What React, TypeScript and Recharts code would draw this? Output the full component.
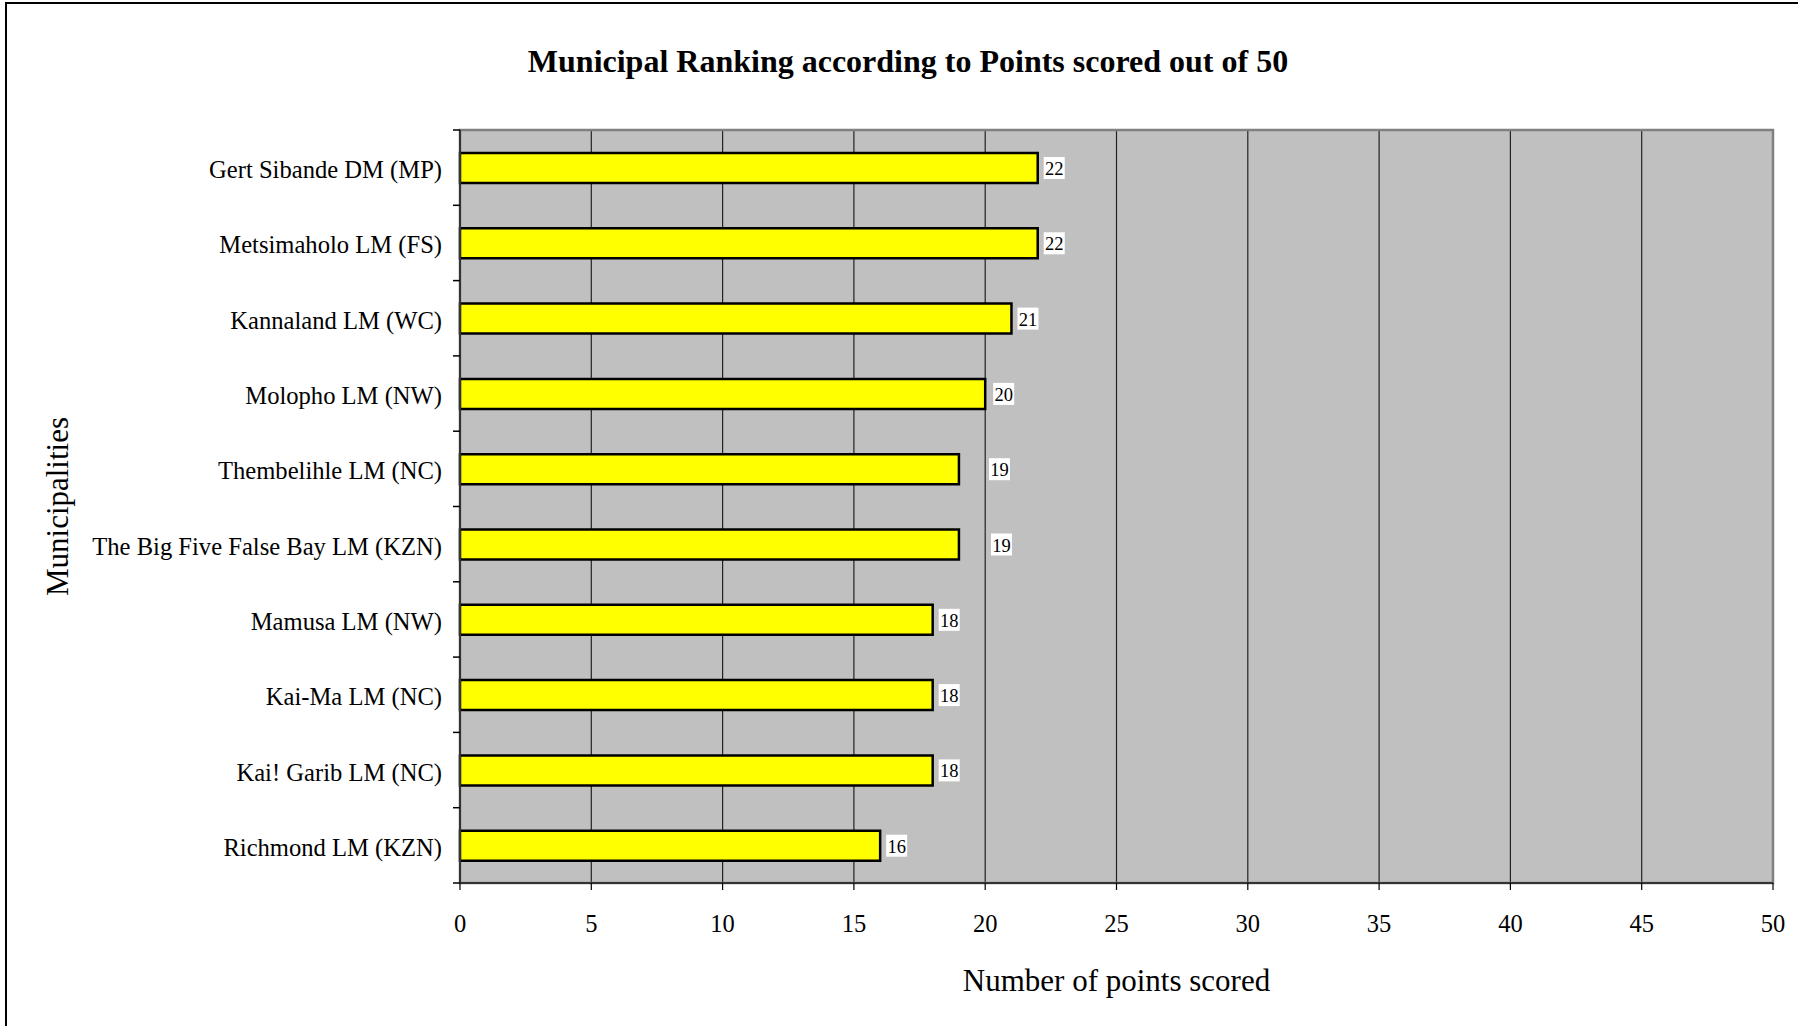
import { Bar, BarChart, CartesianGrid, LabelList, Label, ReferenceArea, XAxis, YAxis } from 'recharts'

const municipalities = [
  'Gert Sibande DM (MP)',
  'Metsimaholo LM (FS)',
  'Kannaland LM (WC)',
  'Molopho LM (NW)',
  'Thembelihle LM (NC)',
  'The Big Five False Bay LM (KZN)',
  'Mamusa LM (NW)',
  'Kai-Ma LM (NC)',
  'Kai! Garib LM (NC)',
  'Richmond LM (KZN)',
]
const points = [22, 22, 21, 20, 19, 19, 18, 18, 18, 16]
const pointTicks = [0, 5, 10, 15, 20, 25, 30, 35, 40, 45, 50]

// the two "19" tags sit a bit further out than the rest
const tagNudge = [0, 0, 0, 2, 24, 26, 0, 0, 0, 0]

const rows = municipalities.map((name, i) => ({ name, points: points[i] }))

const W = 1798
const H = 1026
const TOP = 130
const RIGHT = 25
const Y_AXIS_W = 460
const X_AXIS_H = 143
const BAND = (H - TOP - X_AXIS_H) / municipalities.length
const serif = '"Liberation Serif", "Times New Roman", serif'

function MunicipalityTick(props: any) {
  const { x, y, payload, index } = props
  const half = BAND / 2
  return (
    <g>
      <text x={x - 18} y={y + 2} textAnchor="end" dominantBaseline="central" fontSize={24.6} fontFamily={serif} fill="#000">
        {payload.value}
      </text>
      <line x1={x - 7} x2={x} y1={y + half} y2={y + half} stroke="#000" strokeWidth={1.5} />
      {index === 0 && <line x1={x - 7} x2={x} y1={y - half} y2={y - half} stroke="#000" strokeWidth={1.5} />}
    </g>
  )
}

function ValueTag(props: any) {
  const { x, y, width, height, value, index } = props
  const left = Number(x) + Number(width) + 6 + (tagNudge[index] ?? 0)
  const cy = Number(y) + Number(height) / 2
  return (
    <g>
      <rect x={left} y={cy - 11} width={21} height={22} fill="#fff" />
      <text x={left + 10.5} y={cy + 1} textAnchor="middle" dominantBaseline="central" fontSize={18.5} fontFamily={serif} fill="#000">
        {value}
      </text>
    </g>
  )
}

export default function App() {
  return (
    <div style={{ position: 'absolute', left: 0, top: 0, width: W, height: H, overflow: 'hidden', background: '#fff' }}>
      <div
        style={{
          position: 'absolute',
          left: 5,
          top: 2,
          width: W + 50,
          height: H + 50,
          borderLeft: '2px solid #000',
          borderTop: '2px solid #000',
        }}
      />
      <div
        style={{
          position: 'absolute',
          left: 0,
          top: 44,
          width: 1816,
          textAlign: 'center',
          fontFamily: serif,
          fontWeight: 'bold',
          fontSize: 32,
          lineHeight: '34px',
          color: '#000',
        }}
      >
        Municipal Ranking according to Points scored out of 50
      </div>
      <div style={{ position: 'absolute', left: 0, top: 0 }}>
        <BarChart
          width={W}
          height={H}
          data={rows}
          layout="vertical"
          margin={{ top: TOP, right: RIGHT, bottom: 0, left: 0 }}
        >
          <CartesianGrid horizontal={false} fill="#C0C0C0" fillOpacity={1} stroke="#222" strokeWidth={1.2} />
          <ReferenceArea x1={0} x2={50} fill="none" stroke="#808080" strokeWidth={2.5} ifOverflow="extendDomain" />
          <XAxis
            type="number"
            dataKey="points"
            domain={[0, 50]}
            ticks={pointTicks}
            height={X_AXIS_H}
            axisLine={{ stroke: '#333', strokeWidth: 2 }}
            tickLine={{ stroke: '#000', strokeWidth: 1.2 }}
            tickSize={7}
            tickMargin={25}
            tick={{ fontSize: 24.5, fontFamily: serif, fill: '#000' }}
          >
            <Label
              content={({ viewBox }: any) => (
                <text
                  x={viewBox.x + viewBox.width / 2}
                  y={980}
                  textAnchor="middle"
                  dominantBaseline="central"
                  fontSize={31}
                  fontFamily={serif}
                  fill="#000"
                >
                  Number of points scored
                </text>
              )}
            />
          </XAxis>
          <YAxis
            type="category"
            dataKey="name"
            width={Y_AXIS_W}
            axisLine={{ stroke: '#333', strokeWidth: 2 }}
            tickLine={false}
            tickSize={0}
            tickMargin={0}
            interval={0}
            tick={<MunicipalityTick />}
          >
            <Label
              content={({ viewBox }: any) => (
                <text
                  x={57}
                  y={viewBox.y + viewBox.height / 2}
                  transform={`rotate(-90 57 ${viewBox.y + viewBox.height / 2})`}
                  textAnchor="middle"
                  dominantBaseline="central"
                  fontSize={31}
                  fontFamily={serif}
                  fill="#000"
                >
                  Municipalities
                </text>
              )}
            />
          </YAxis>
          <Bar dataKey="points" fill="#FFFF00" stroke="#000" strokeWidth={2.5} barSize={30} isAnimationActive={false}>
            <LabelList dataKey="points" content={<ValueTag />} />
          </Bar>
        </BarChart>
      </div>
    </div>
  )
}
